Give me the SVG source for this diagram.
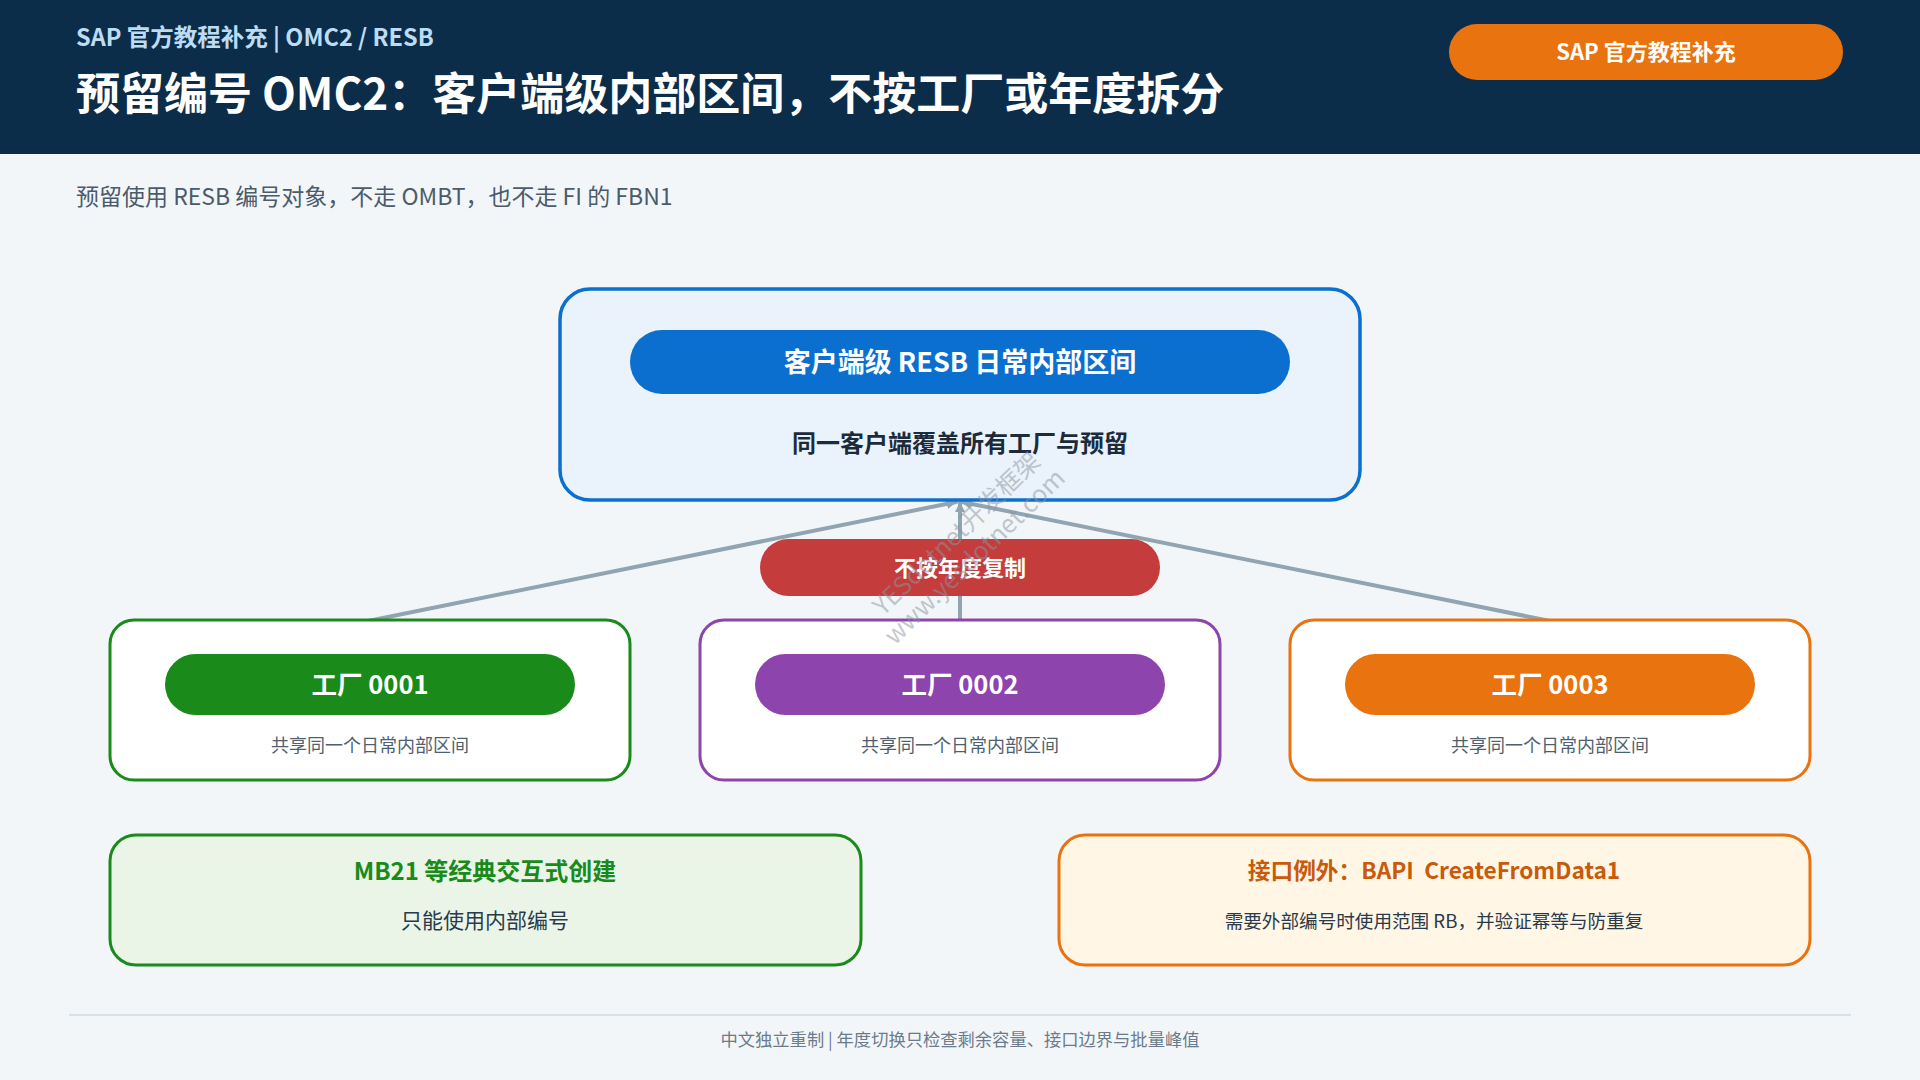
<svg xmlns="http://www.w3.org/2000/svg" width="1920" height="1080" viewBox="0 0 1920 1080">
<style>
text{font-family:"Noto Sans CJK SC","Noto Sans",sans-serif;dominant-baseline:central}
.b{font-weight:700}
.c{text-anchor:middle}
.w{fill:#ffffff}
.plant{fill:#ffffff;stroke-width:3}
.sub{font-size:18px;fill:#4f5f6f}
.conn{stroke:#90a4b2;stroke-width:4;fill:none;stroke-linecap:round}
.wm{font-size:25px;fill:#8a96a0;opacity:0.5}
</style>
<defs>
<marker id="ah" viewBox="0 0 10 10" refX="9" refY="5" markerWidth="2.6" markerHeight="2.6" orient="auto" markerUnits="strokeWidth">
<path d="M0,0 L10,5 L0,10 z" fill="#90a4b2"/>
</marker>
</defs>
<rect x="0" y="0" width="1920" height="1080" fill="#f3f6f9"/>
<g id="header">
<rect x="0" y="0" width="1920" height="154" fill="#0c2d4a"/>
<text x="76" y="36" class="b" font-size="23.5" fill="#bcdcf4">SAP 官方教程补充 | OMC2 / RESB</text>
<text x="76" y="91" class="b w" font-size="44">预留编号 OMC2：客户端级内部区间，不按工厂或年度拆分</text>
</g>
<g id="badge">
<rect x="1449" y="24" width="394" height="56" rx="28" fill="#e8730f"/>
<text x="1646" y="50" class="b c w" font-size="22">SAP 官方教程补充</text>
</g>
<text id="intro" x="76" y="195" font-size="23" fill="#4b5b6b">预留使用 RESB 编号对象，不走 OMBT，也不走 FI 的 FBN1</text>
<g id="connectors">
<line class="conn" x1="368" y1="621" x2="956" y2="502" marker-end="url(#ah)"/>
<line class="conn" x1="1550" y1="621" x2="962" y2="502" marker-end="url(#ah)"/>
<line class="conn" x1="960" y1="621" x2="960" y2="503" marker-end="url(#ah)"/>
</g>
<g id="client-range">
<rect x="560" y="289" width="800" height="211" rx="30" fill="#eaf2fb" stroke="#0b6fd0" stroke-width="3.5"/>
<rect x="630" y="330" width="660" height="64" rx="32" fill="#0b6fd0"/>
<text x="960" y="360" class="b c w" font-size="27">客户端级 RESB 日常内部区间</text>
<text x="960" y="441" class="b c" font-size="24" fill="#1c2b3a">同一客户端覆盖所有工厂与预留</text>
</g>
<g id="no-year-copy">
<rect x="760" y="539" width="400" height="57" rx="28.5" fill="#c43c3c"/>
<text x="960" y="566" class="b c w" font-size="22">不按年度复制</text>
</g>
<g id="plant-0001">
<rect x="110" y="620" width="520" height="160" rx="24" class="plant" stroke="#1a8a1a"/>
<rect x="165" y="654" width="410" height="61" rx="30.5" fill="#1a8a1a"/>
<text x="370" y="682" class="b c w" font-size="25.5">工厂 0001</text>
<text x="370" y="744" class="c sub">共享同一个日常内部区间</text>
</g>
<g id="plant-0002">
<rect x="700" y="620" width="520" height="160" rx="24" class="plant" stroke="#8e44ad"/>
<rect x="755" y="654" width="410" height="61" rx="30.5" fill="#8e44ad"/>
<text x="960" y="682" class="b c w" font-size="25.5">工厂 0002</text>
<text x="960" y="744" class="c sub">共享同一个日常内部区间</text>
</g>
<g id="plant-0003">
<rect x="1290" y="620" width="520" height="160" rx="24" class="plant" stroke="#e8730f"/>
<rect x="1345" y="654" width="410" height="61" rx="30.5" fill="#e8730f"/>
<text x="1550" y="682" class="b c w" font-size="25.5">工厂 0003</text>
<text x="1550" y="744" class="c sub">共享同一个日常内部区间</text>
</g>
<g id="mb21">
<rect x="110" y="835" width="751" height="130" rx="26" fill="#eaf5e8" stroke="#1a8a1a" stroke-width="3"/>
<text x="485" y="869" class="b c" font-size="24" fill="#1a8a1a">MB21 等经典交互式创建</text>
<text x="485" y="919" class="c" font-size="21" fill="#2a3a4a">只能使用内部编号</text>
</g>
<g id="bapi">
<rect x="1059" y="835" width="751" height="130" rx="26" fill="#fff6e6" stroke="#e8730f" stroke-width="3"/>
<text x="1434" y="869" class="b c" font-size="22.7" fill="#c85a0a" style="white-space:pre">接口例外：BAPI  CreateFromData1</text>
<text x="1434" y="919" class="c" font-size="18.6" fill="#2a3a4a">需要外部编号时使用范围 RB，并验证幂等与防重复</text>
</g>
<g id="footer">
<line x1="69" y1="1015" x2="1851" y2="1015" stroke="#d8e0e8" stroke-width="2"/>
<text x="960" y="1038" class="c" font-size="17.3" fill="#6b7b8b">中文独立重制 | 年度切换只检查剩余容量、接口边界与批量峰值</text>
</g>
<g id="watermark">
<text x="955" y="532" class="c wm" transform="rotate(-44 955 532)">YESdotnet开发框架</text>
<text x="973" y="555" class="c wm" transform="rotate(-44 973 555)">www.yesdotnet.com</text>
</g>
</svg>
